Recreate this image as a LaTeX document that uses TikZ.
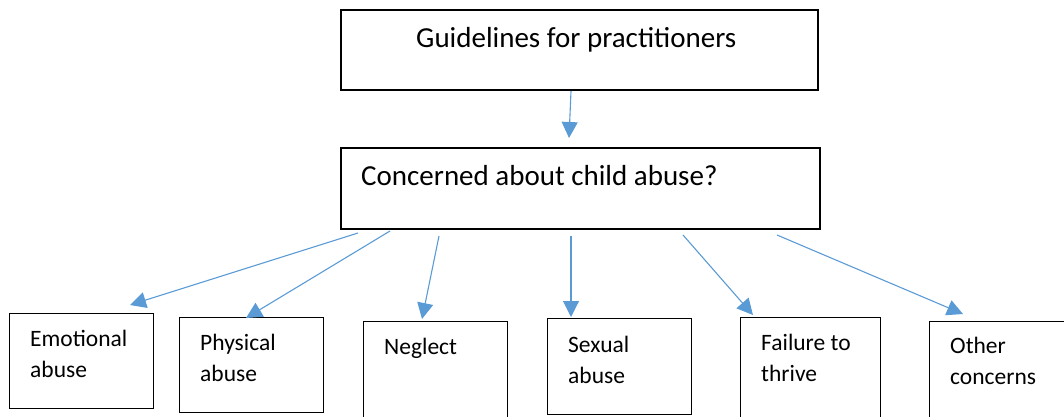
\documentclass[tikz,border=0pt]{standalone}
\usepackage{fontspec}
\setmainfont{Carlito}
\usetikzlibrary{arrows.meta}
\definecolor{arrowblue}{HTML}{5B9BD5}
\tikzset{
  bigbox/.style={draw=black, line width=2pt, inner sep=0pt, anchor=north west},
  smallbox/.style={draw=black, line width=1.3pt, inner sep=0pt, anchor=north west, minimum width=144pt},
  bigtext/.style={anchor=base west, inner sep=0pt, font=\fontsize{29}{35}\selectfont},
  smalltext/.style={anchor=base west, inner sep=0pt, align=left, font=\fontsize{23.5}{31}\selectfont},
  conn/.style={draw=arrowblue, line width=1.1pt, -{Triangle[length=16pt,width=16pt]}, arrowblue}
}
\begin{document}
\begin{tikzpicture}[x=1pt,y=-1pt]
\useasboundingbox (0,0) rectangle (1064,416);
% top boxes
\node[bigbox, minimum width=477pt, minimum height=80pt] (top) at (340,9) {};
\node[bigbox, minimum width=479pt, minimum height=81pt] (mid) at (340,147) {};
\node[bigtext] (toptext) at (416,47) {Guidelines for practitioners};
\node[bigtext] (midtext) at (361,185) {Concerned about child abuse?};
% bottom boxes
\node[smallbox, minimum height=95pt] (b1) at (9,313) {};
\node[smallbox, minimum height=95pt] (b2) at (179,317) {};
\node[smallbox, minimum height=105pt] (b3) at (363,321) {};
\node[smallbox, minimum height=96pt] (b4) at (547,318) {};
\node[smallbox, minimum width=140pt, minimum height=105pt] (b5) at (740,317) {};
\node[smallbox, minimum width=145pt, minimum height=105pt] (b6) at (929,321) {};
% bottom texts (anchor at baseline of last line)
\node[smalltext] (t1) at (30,377) {Emotional\\abuse};
\node[smalltext] (t2) at (200,381) {Physical\\abuse};
\node[smalltext] (t3) at (384,354) {Neglect};
\node[smalltext] (t4) at (568,383) {Sexual\\abuse};
\node[smalltext] (t5) at (761,381) {Failure to\\thrive};
\node[smalltext] (t6) at (950,384) {Other\\concerns};
% arrow tips
\coordinate (p0) at (569,138);
\coordinate (p1) at (130,305);
\coordinate (p2) at (246,318);
\coordinate (p3) at (422,319);
\coordinate (p4) at (571,317);
\coordinate (p5) at (753,315);
\coordinate (p6) at (963,314);
% connectors
\draw[conn] ([xshift=231pt]top.south west) -- (p0);
\draw[conn] ([xshift=18pt,yshift=-3pt]mid.south west) -- (p1);
\draw[conn] ([xshift=50pt,yshift=-1pt]mid.south west) -- (p2);
\draw[conn] ([xshift=99pt,yshift=-6pt]mid.south west) -- (p3);
\draw[conn] ([xshift=231pt,yshift=-6pt]mid.south west) -- (p4);
\draw[conn] ([xshift=343pt,yshift=-5pt]mid.south west) -- (p5);
\draw[conn] ([xshift=437pt,yshift=-5pt]mid.south west) -- (p6);
\end{tikzpicture}
\end{document}
